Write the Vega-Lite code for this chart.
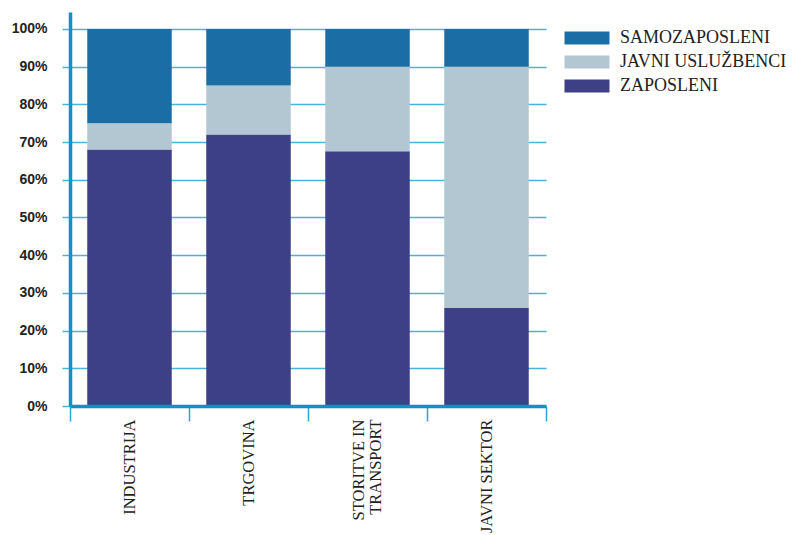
{
  "$schema": "https://vega.github.io/schema/vega-lite/v6.json",
  "width": 476,
  "height": 394,
  "autosize": {"type": "none"},
  "padding": {"left": 70, "top": 12, "right": 252, "bottom": 129},
  "background": "white",
  "config": {"view": {"stroke": null}},
  "data": {
    "values": [
      {"sektor": "INDUSTRIJA", "tip": "ZAPOSLENI", "k": 1, "delez": 68},
      {"sektor": "INDUSTRIJA", "tip": "JAVNI USLUŽBENCI", "k": 2, "delez": 7},
      {"sektor": "INDUSTRIJA", "tip": "SAMOZAPOSLENI", "k": 3, "delez": 25},
      {"sektor": "TRGOVINA", "tip": "ZAPOSLENI", "k": 1, "delez": 72},
      {"sektor": "TRGOVINA", "tip": "JAVNI USLUŽBENCI", "k": 2, "delez": 13},
      {"sektor": "TRGOVINA", "tip": "SAMOZAPOSLENI", "k": 3, "delez": 15},
      {"sektor": "STORITVE IN TRANSPORT", "tip": "ZAPOSLENI", "k": 1, "delez": 67.6},
      {"sektor": "STORITVE IN TRANSPORT", "tip": "JAVNI USLUŽBENCI", "k": 2, "delez": 22.4},
      {"sektor": "STORITVE IN TRANSPORT", "tip": "SAMOZAPOSLENI", "k": 3, "delez": 10},
      {"sektor": "JAVNI SEKTOR", "tip": "ZAPOSLENI", "k": 1, "delez": 26},
      {"sektor": "JAVNI SEKTOR", "tip": "JAVNI USLUŽBENCI", "k": 2, "delez": 64},
      {"sektor": "JAVNI SEKTOR", "tip": "SAMOZAPOSLENI", "k": 3, "delez": 10}
    ]
  },
  "mark": {"type": "bar", "width": {"band": 0.71}},
  "encoding": {
    "x": {
      "field": "sektor",
      "type": "nominal",
      "sort": ["INDUSTRIJA", "TRGOVINA", "STORITVE IN TRANSPORT", "JAVNI SEKTOR"],
      "scale": {"paddingInner": 0, "paddingOuter": 0},
      "axis": {
        "title": null,
        "zindex": 1,
        "domainColor": "#0a94c0",
        "domainWidth": 3.5,
        "tickBand": "extent",
        "ticks": true,
        "tickColor": "#2aa5d0",
        "tickSize": 15,
        "tickWidth": 1.5,
        "labelAngle": 270,
        "labelFont": "Liberation Serif",
        "labelFontSize": 16.5,
        "labelColor": "#222222",
        "labelPadding": -2,
        "labelLineHeight": 17,
        "labelLimit": 200,
        "labelOffset": {"condition": {"test": "datum.value == 'STORITVE IN TRANSPORT'", "value": -9}, "value": 0},
        "labelExpr": "datum.label == 'STORITVE IN TRANSPORT' ? ['STORITVE IN', 'TRANSPORT'] : datum.label"
      }
    },
    "y": {
      "field": "delez",
      "type": "quantitative",
      "stack": "zero",
      "scale": {"domain": [0, 104.5], "nice": false, "zero": true},
      "axis": {
        "title": null,
        "values": [0, 10, 20, 30, 40, 50, 60, 70, 80, 90, 100],
        "labelExpr": "datum.value + '%'",
        "domainColor": "#0a94c0",
        "domainWidth": 3.5,
        "grid": true,
        "gridColor": "#4ab3da",
        "gridWidth": 1.5,
        "tickColor": "#4ab3da",
        "tickSize": 8,
        "tickWidth": 1.5,
        "labelPadding": 15,
        "labelFont": "Liberation Sans",
        "labelFontWeight": "bold",
        "labelFontSize": 14,
        "labelColor": "#222222"
      }
    },
    "color": {
      "field": "tip",
      "type": "nominal",
      "scale": {
        "domain": ["SAMOZAPOSLENI", "JAVNI USLUŽBENCI", "ZAPOSLENI"],
        "range": ["#1b6ea5", "#b3c7d2", "#3d3f87"]
      },
      "legend": {
        "title": null,
        "orient": "none",
        "legendX": 508,
        "legendY": 17,
        "symbolType": "M-3.46,-1H3.46V1H-3.46Z",
        "symbolSize": 169,
        "symbolStrokeWidth": 0,
        "symbolOpacity": 1,
        "labelFont": "Liberation Serif",
        "labelFontSize": 18,
        "labelColor": "#222222",
        "labelOffset": 24,
        "rowPadding": 6,
        "labelLimit": 300
      }
    },
    "order": {"field": "k", "type": "quantitative"}
  }
}
